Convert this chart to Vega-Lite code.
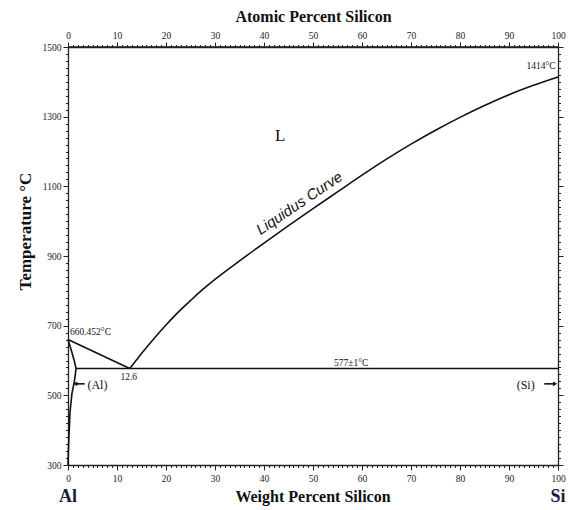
{
  "$schema": "https://vega.github.io/schema/vega-lite/v6.json",
  "width": 490,
  "height": 418,
  "autosize": {"type": "none"},
  "padding": {"left": 68, "top": 47, "right": 15, "bottom": 45},
  "background": "white",
  "config": {
    "view": {"stroke": null},
    "font": "Liberation Serif",
    "axis": {"domainColor": "#222", "domainWidth": 1.3, "tickColor": "#222", "labelColor": "#222", "labelFont": "Liberation Serif", "labelFontSize": 9.5, "titleFont": "Liberation Serif", "titleFontWeight": "bold", "titleFontSize": 16, "titleColor": "#111", "grid": false}
  },
  "datasets": {
    "lines": [
      {"s": "liqAl", "o": 0, "w": 0, "T": 660.452},
      {"s": "liqAl", "o": 1, "w": 12.6, "T": 577},
      {"s": "sol", "o": 0, "w": 0, "T": 660.452},
      {"s": "sol", "o": 1, "w": 0.7, "T": 628},
      {"s": "sol", "o": 2, "w": 1.3, "T": 598},
      {"s": "sol", "o": 3, "w": 1.65, "T": 577},
      {"s": "sol", "o": 4, "w": 1.3, "T": 540},
      {"s": "sol", "o": 5, "w": 0.8, "T": 505},
      {"s": "sol", "o": 6, "w": 0.4, "T": 450},
      {"s": "sol", "o": 7, "w": 0.25, "T": 400},
      {"s": "sol", "o": 8, "w": 0.1, "T": 350},
      {"s": "sol", "o": 9, "w": 0, "T": 300},
      {"s": "eut", "o": 0, "w": 1.65, "T": 577},
      {"s": "eut", "o": 1, "w": 100, "T": 577},
      {"s": "arAl", "o": 0, "w": 3.4, "T": 533},
      {"s": "arAl", "o": 1, "w": 1.5, "T": 533},
      {"s": "arSi", "o": 0, "w": 97.2, "T": 533},
      {"s": "arSi", "o": 1, "w": 99.4, "T": 533}
    ],
    "liquidus": [
      {"o": 0, "w": 12.6, "T": 577},
      {"o": 1, "w": 14, "T": 602},
      {"o": 2, "w": 15, "T": 620},
      {"o": 3, "w": 17, "T": 654},
      {"o": 4, "w": 20, "T": 702},
      {"o": 5, "w": 22.5, "T": 739},
      {"o": 6, "w": 25, "T": 772},
      {"o": 7, "w": 27.5, "T": 804},
      {"o": 8, "w": 30, "T": 833},
      {"o": 9, "w": 35, "T": 886},
      {"o": 10, "w": 40, "T": 937},
      {"o": 11, "w": 45, "T": 987},
      {"o": 12, "w": 50, "T": 1036},
      {"o": 13, "w": 55, "T": 1084},
      {"o": 14, "w": 60, "T": 1132},
      {"o": 15, "w": 65, "T": 1178},
      {"o": 16, "w": 70, "T": 1221},
      {"o": 17, "w": 75, "T": 1261},
      {"o": 18, "w": 80, "T": 1298},
      {"o": 19, "w": 85, "T": 1332},
      {"o": 20, "w": 90, "T": 1363},
      {"o": 21, "w": 95, "T": 1390},
      {"o": 22, "w": 100, "T": 1414}
    ]
  },
  "layer": [
    {
      "data": {"name": "lines"},
      "mark": {"type": "line", "color": "#111", "strokeWidth": 1.6},
      "encoding": {
        "x": {"field": "w", "type": "quantitative", "scale": {"domain": [0, 100], "nice": false},
          "axis": {"orient": "bottom", "title": null, "values": [0,1,2,3,4,5,6,7,8,9,10,11,12,13,14,15,16,17,18,19,20,21,22,23,24,25,26,27,28,29,30,31,32,33,34,35,36,37,38,39,40,41,42,43,44,45,46,47,48,49,50,51,52,53,54,55,56,57,58,59,60,61,62,63,64,65,66,67,68,69,70,71,72,73,74,75,76,77,78,79,80,81,82,83,84,85,86,87,88,89,90,91,92,93,94,95,96,97,98,99,100],
            "labelExpr": "datum.value % 10 === 0 ? datum.label : ''", "tickSize": {"condition": {"test": "datum.value % 10 === 0", "value": 5}, "value": 2.5}, "labelPadding": 3, "labelFlush": false, "labelOverlap": false}},
        "y": {"field": "T", "type": "quantitative", "scale": {"domain": [300, 1500], "nice": false, "zero": false},
          "axis": {"orient": "left", "title": "Temperature °C", "titleFontSize": 17, "titleX": -43, "titleY": 184, "titleAlign": "center", "titleBaseline": "middle", "titleAngle": 270, "values": [300,320,340,360,380,400,420,440,460,480,500,520,540,560,580,600,620,640,660,680,700,720,740,760,780,800,820,840,860,880,900,920,940,960,980,1000,1020,1040,1060,1080,1100,1120,1140,1160,1180,1200,1220,1240,1260,1280,1300,1320,1340,1360,1380,1400,1420,1440,1460,1480,1500],
            "labelExpr": "(datum.value - 300) % 200 === 0 ? datum.label : ''", "format": "d", "tickSize": {"condition": {"test": "(datum.value - 300) % 200 === 0", "value": 5}, "value": 2.5}, "labelPadding": 2, "labelOverlap": false, "labelFlush": false}},
        "detail": {"field": "s"},
        "order": {"field": "o", "type": "quantitative"}
      }
    },
    {
      "data": {"values": [{"w": 0, "T": 1500, "w2": 100}]},
      "mark": {"type": "rule", "color": "#222", "strokeWidth": 1.3},
      "encoding": {
        "x": {"field": "w", "type": "quantitative",
          "axis": {"orient": "top", "title": "Atomic Percent Silicon", "titlePadding": 6, "values": [0,1,2,3,4,5,6,7,8,9,10,11,12,13,14,15,16,17,18,19,20,21,22,23,24,25,26,27,28,29,30,31,32,33,34,35,36,37,38,39,40,41,42,43,44,45,46,47,48,49,50,51,52,53,54,55,56,57,58,59,60,61,62,63,64,65,66,67,68,69,70,71,72,73,74,75,76,77,78,79,80,81,82,83,84,85,86,87,88,89,90,91,92,93,94,95,96,97,98,99,100],
            "labelExpr": "datum.value % 10 === 0 ? datum.label : ''", "tickSize": {"condition": {"test": "datum.value % 10 === 0", "value": 5}, "value": 2.5}, "labelPadding": 2, "labelFlush": false, "labelOverlap": false}},
        "x2": {"field": "w2"},
        "y": {"field": "T", "type": "quantitative",
          "axis": {"orient": "right", "title": null, "labels": false, "values": [300,320,340,360,380,400,420,440,460,480,500,520,540,560,580,600,620,640,660,680,700,720,740,760,780,800,820,840,860,880,900,920,940,960,980,1000,1020,1040,1060,1080,1100,1120,1140,1160,1180,1200,1220,1240,1260,1280,1300,1320,1340,1360,1380,1400,1420,1440,1460,1480,1500],
            "tickSize": {"condition": {"test": "(datum.value - 300) % 200 === 0", "value": 5}, "value": 2.5}}}
      }
    },
    {
      "data": {"name": "liquidus"},
      "mark": {"type": "line", "color": "#111", "strokeWidth": 1.6, "interpolate": "monotone"},
      "encoding": {
        "x": {"field": "w", "type": "quantitative", "axis": null},
        "y": {"field": "T", "type": "quantitative", "axis": null},
        "order": {"field": "o", "type": "quantitative"}
      }
    },
    {
      "data": {"values": [{"w": 1.5, "T": 533, "dir": "Al"}, {"w": 99.4, "T": 533, "dir": "Si"}]},
      "mark": {"type": "point", "filled": true, "color": "#111", "size": 22, "opacity": 1},
      "encoding": {
        "x": {"field": "w", "type": "quantitative", "axis": null},
        "y": {"field": "T", "type": "quantitative", "axis": null},
        "shape": {"field": "dir", "type": "nominal", "scale": {"domain": ["Al", "Si"], "range": ["triangle-left", "triangle-right"]}, "legend": null}
      }
    },
    {
      "data": {"values": [{"label": "660.452°C", "w": 0.4, "T": 667}]},
      "mark": {"type": "text", "font": "Liberation Serif", "fontSize": 9.5, "color": "#111", "baseline": "bottom", "align": "left"},
      "encoding": {
        "x": {"field": "w", "type": "quantitative", "axis": null},
        "y": {"field": "T", "type": "quantitative", "axis": null},
        "text": {"field": "label"}
      }
    },
    {
      "data": {"values": [{"label": "1414°C", "w": 99.5, "T": 1432}]},
      "mark": {"type": "text", "font": "Liberation Serif", "fontSize": 9.5, "color": "#111", "baseline": "bottom", "align": "right"},
      "encoding": {
        "x": {"field": "w", "type": "quantitative", "axis": null},
        "y": {"field": "T", "type": "quantitative", "axis": null},
        "text": {"field": "label"}
      }
    },
    {
      "data": {"values": [
        {"label": "12.6", "w": 12.4, "T": 553},
        {"label": "577±1°C", "w": 57.8, "T": 593}
      ]},
      "mark": {"type": "text", "font": "Liberation Serif", "fontSize": 9.5, "color": "#111", "align": "center", "baseline": "middle"},
      "encoding": {
        "x": {"field": "w", "type": "quantitative", "axis": null},
        "y": {"field": "T", "type": "quantitative", "axis": null},
        "text": {"field": "label"}
      }
    },
    {
      "data": {"values": [
        {"label": "(Al)", "w": 6.0, "T": 530},
        {"label": "(Si)", "w": 93.4, "T": 530}
      ]},
      "mark": {"type": "text", "font": "Liberation Serif", "fontSize": 12, "color": "#111", "align": "center", "baseline": "middle"},
      "encoding": {
        "x": {"field": "w", "type": "quantitative", "axis": null},
        "y": {"field": "T", "type": "quantitative", "axis": null},
        "text": {"field": "label"}
      }
    },
    {
      "data": {"values": [{"label": "L", "w": 43.3, "T": 1245}]},
      "mark": {"type": "text", "font": "Liberation Serif", "fontSize": 17, "color": "#111", "align": "center", "baseline": "middle"},
      "encoding": {
        "x": {"field": "w", "type": "quantitative", "axis": null},
        "y": {"field": "T", "type": "quantitative", "axis": null},
        "text": {"field": "label"}
      }
    },
    {
      "data": {"values": [{"label": "Liquidus Curve", "w": 47.2, "T": 1052}]},
      "mark": {"type": "text", "font": "Liberation Sans", "fontStyle": "italic", "fontSize": 15, "color": "#111", "align": "center", "baseline": "middle", "angle": 326},
      "encoding": {
        "x": {"field": "w", "type": "quantitative", "axis": null},
        "y": {"field": "T", "type": "quantitative", "axis": null},
        "text": {"field": "label"}
      }
    },
    {
      "data": {"values": [
        {"label": "Al", "w": 0, "T": 208},
        {"label": "Weight Percent Silicon", "w": 50, "T": 208},
        {"label": "Si", "w": 100, "T": 208}
      ]},
      "mark": {"type": "text", "font": "Liberation Serif", "fontWeight": "bold", "fontSize": 16, "align": "center", "baseline": "middle", "clip": false},
      "encoding": {
        "x": {"field": "w", "type": "quantitative", "axis": null},
        "y": {"field": "T", "type": "quantitative", "axis": null},
        "text": {"field": "label"},
        "color": {"condition": {"test": "datum.label === 'Weight Percent Silicon'", "value": "#111"}, "value": "#1a1a40"},
        "size": {"condition": {"test": "datum.label === 'Weight Percent Silicon'", "value": 16}, "value": 18}
      }
    }
  ],
  "resolve": {"axis": {"x": "independent", "y": "independent"}}
}
